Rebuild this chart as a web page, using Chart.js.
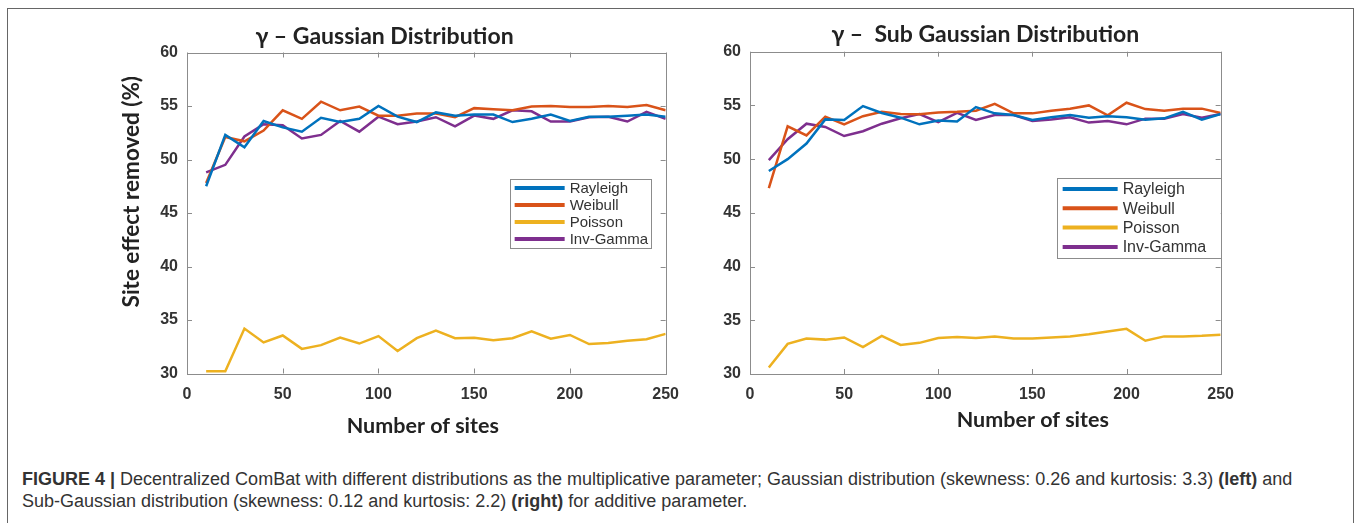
<!DOCTYPE html>
<html>
<head>
<meta charset="utf-8">
<script src="https://cdn.jsdelivr.net/npm/chart.js@4"></script>
<style>
  body { margin: 0; background: #fff; width: 1357px; height: 523px; position: relative; overflow: hidden; font-family: "Liberation Sans", Arial, sans-serif; }
  #frame { position: absolute; left: 7px; top: 8px; width: 1345px; height: 540px; border: 1px solid #666; }
  canvas { position: absolute; }
  #left { left: 100px; top: 5px; }
  #right { left: 700px; top: 5px; }
  #caption { position: absolute; left: 22px; top: 469px; width: 1320px; font-size: 18px; line-height: 21.5px; color: #333; white-space: nowrap; }
</style>
</head>
<body>
<div id="frame"></div>
<canvas id="left" width="590" height="435"></canvas>
<canvas id="right" width="545" height="435"></canvas>
<div id="caption"><b>FIGURE 4 |</b> Decentralized ComBat with different distributions as the multiplicative parameter; Gaussian distribution (skewness: 0.26 and kurtosis: 3.3) <b>(left)</b> and<br>Sub-Gaussian distribution (skewness: 0.12 and kurtosis: 2.2) <b>(right)</b> for additive parameter.</div>
<script>
// number of sites (x values)
var sites = [10, 20, 30, 40, 50, 60, 70, 80, 90, 100, 110, 120, 130, 140, 150, 160, 170, 180, 190, 200, 210, 220, 230, 240, 250];
var xTicks = [0, 50, 100, 150, 200, 250];
var yTicks = [30, 35, 40, 45, 50, 55, 60];
var seriesNames = ["Rayleigh", "Weibull", "Poisson", "Inv-Gamma"];
var seriesColors = ["#0072BD", "#D95319", "#EDB120", "#7E2F8E"];

// gamma - Gaussian distribution
var gaussRayleigh = [47.5, 52.3, 51.15, 53.6, 53.0, 52.6, 53.9, 53.5, 53.8, 55.0, 54.0, 53.5, 54.4, 54.1, 54.2, 54.2, 53.5, 53.8, 54.2, 53.6, 54.0, 54.0, 54.1, 54.2, 54.0];
var gaussWeibull = [47.8, 52.1, 51.7, 52.7, 54.6, 53.8, 55.4, 54.6, 54.95, 54.1, 54.1, 54.3, 54.3, 53.95, 54.8, 54.7, 54.6, 54.95, 55.0, 54.9, 54.9, 55.0, 54.9, 55.1, 54.6];
var gaussPoisson = [30.2, 30.2, 34.2, 32.9, 33.55, 32.3, 32.65, 33.35, 32.8, 33.5, 32.1, 33.3, 34.0, 33.3, 33.35, 33.1, 33.3, 33.95, 33.25, 33.6, 32.75, 32.85, 33.05, 33.2, 33.7];
var gaussInvGamma = [48.8, 49.5, 52.15, 53.3, 53.2, 51.96, 52.3, 53.6, 52.6, 54.0, 53.3, 53.55, 53.95, 53.1, 54.1, 53.8, 54.6, 54.5, 53.55, 53.55, 53.95, 54.0, 53.55, 54.45, 53.8];

// gamma - Sub Gaussian distribution
var subRayleigh = [48.9, 50.0, 51.45, 53.7, 53.64, 54.94, 54.3, 53.86, 53.24, 53.6, 53.5, 54.85, 54.26, 54.1, 53.64, 53.9, 54.1, 53.86, 54.0, 53.9, 53.67, 53.8, 54.4, 53.67, 54.2];
var subWeibull = [47.3, 53.05, 52.2, 53.95, 53.24, 54.0, 54.4, 54.2, 54.17, 54.35, 54.4, 54.5, 55.15, 54.26, 54.26, 54.5, 54.7, 55.0, 54.07, 55.25, 54.66, 54.5, 54.7, 54.7, 54.3];
var subPoisson = [30.6, 32.8, 33.3, 33.2, 33.4, 32.5, 33.55, 32.7, 32.9, 33.35, 33.45, 33.35, 33.5, 33.3, 33.3, 33.4, 33.5, 33.7, 33.95, 34.2, 33.1, 33.5, 33.5, 33.55, 33.65];
var subInvGamma = [49.9, 51.85, 53.3, 53.0, 52.15, 52.6, 53.3, 53.8, 54.2, 53.45, 54.3, 53.64, 54.1, 54.1, 53.55, 53.7, 53.9, 53.4, 53.55, 53.24, 53.77, 53.77, 54.2, 53.86, 54.2];

Chart.defaults.animation = false;

function makeDatasets(list) {
    return list.map(function (vals, i) {
        return {
            label: seriesNames[i],
            data: sites.map(function (s, j) { return { x: s, y: vals[j] }; }),
            borderColor: seriesColors[i],
            backgroundColor: seriesColors[i],
            borderWidth: 2.5,
            pointRadius: 0,
            tension: 0,
            fill: false,
        };
    });
}

// matlab style box with inward ticks
var boxTicks = {
    id: "boxTicks",
    afterDatasetsDraw: function (chart) {
        var ctx = chart.ctx, a = chart.chartArea;
        var xs = chart.scales.x, ys = chart.scales.y;
        ctx.save();
        ctx.strokeStyle = "#8c8c8c";
        ctx.lineWidth = 1;
        ctx.beginPath();
        xs.ticks.forEach(function (t) {
            var px = Math.round(xs.getPixelForValue(t.value)) + 0.5;
            ctx.moveTo(px, a.bottom); ctx.lineTo(px, a.bottom - 5);
            ctx.moveTo(px, a.top); ctx.lineTo(px, a.top + 5);
        });
        ys.ticks.forEach(function (t) {
            var py = Math.round(ys.getPixelForValue(t.value)) + 0.5;
            ctx.moveTo(a.left, py); ctx.lineTo(a.left + 5, py);
            ctx.moveTo(a.right, py); ctx.lineTo(a.right - 5, py);
        });
        ctx.stroke();
        ctx.strokeRect(Math.round(a.left) + 0.5, Math.round(a.top) + 0.5, Math.round(a.right - a.left), Math.round(a.bottom - a.top));
        ctx.restore();
    },
};

// legend box inside the axes
var boxLegend = {
    id: "boxLegend",
    afterDraw: function (chart, args, o) {
        var ctx = chart.ctx, a = chart.chartArea;
        var bx = a.right - o.right - o.width, by = a.top + o.top;
        ctx.save();
        ctx.fillStyle = "#fff";
        ctx.fillRect(bx, by, o.width, o.height);
        ctx.strokeStyle = "#8c8c8c";
        ctx.lineWidth = 1;
        ctx.strokeRect(Math.round(bx) + 0.5, Math.round(by) + 0.5, o.width, o.height);
        ctx.font = o.fontSize + "px 'Liberation Sans', Arial, sans-serif";
        ctx.textBaseline = "middle";
        chart.data.datasets.forEach(function (ds, i) {
            var y = by + o.first + i * o.row;
            ctx.strokeStyle = ds.borderColor;
            ctx.lineWidth = 4;
            ctx.beginPath();
            ctx.moveTo(bx + o.lineStart, y);
            ctx.lineTo(bx + o.lineStart + o.lineLen, y);
            ctx.stroke();
            ctx.fillStyle = "#333";
            ctx.fillText(ds.label, bx + o.lineStart + o.lineLen + 5, y + 1);
        });
        ctx.restore();
    },
};

// axis titles, placed off the plot centre like in the figure
var axisTitles = {
    id: "axisTitles",
    afterDraw: function (chart, args, o) {
        var ctx = chart.ctx, a = chart.chartArea;
        var cx = (a.left + a.right) / 2, cy = (a.top + a.bottom) / 2;
        ctx.save();
        ctx.fillStyle = "#222";
        ctx.textAlign = "center";
        ctx.textBaseline = "middle";
        ctx.font = "bold 21.5px Lato";
        ctx.fillText(o.xText, cx + o.xdx, a.bottom + o.xdy);
        if (o.yText) {
            ctx.font = "bold 22.5px Lato";
            ctx.translate(a.left + o.ydx, cy + o.ydy);
            ctx.rotate(-Math.PI / 2);
            ctx.fillText(o.yText, 0, 0);
        }
        ctx.restore();
    },
};

function makeOptions(cfg) {
    return {
        responsive: false,
        layout: { padding: { left: 0, right: cfg.padRight, top: 0, bottom: 0 } },
        plugins: {
            legend: { display: false },
            tooltip: { enabled: false },
            title: {
                display: true,
                text: cfg.title,
                color: "#222",
                fullSize: cfg.titleFull,
                font: { family: "Lato", size: 23, weight: "bold", lineHeight: 1.2 },
                padding: { top: cfg.titleTop, bottom: cfg.titleBottom },
            },
            boxLegend: cfg.legend,
            axisTitles: cfg.axisTitles,
        },
        scales: {
            x: {
                type: "linear",
                min: 0,
                max: 250,
                grid: { display: false, drawTicks: false },
                border: { display: false },
                afterBuildTicks: function (s) { s.ticks = xTicks.map(function (v) { return { value: v }; }); },
                afterFit: function (s) { s.height = cfg.xHeight; },
                ticks: { color: "#333", padding: 11, maxRotation: 0, font: { family: "Liberation Sans", size: 16, weight: "bold" } },
            },
            y: {
                type: "linear",
                min: 30,
                max: 60,
                grid: { display: false, drawTicks: false },
                border: { display: false },
                afterBuildTicks: function (s) { s.ticks = yTicks.map(function (v) { return { value: v }; }); },
                afterFit: function (s) { s.width = cfg.yWidth; },
                ticks: { color: "#333", padding: 9, font: { family: "Liberation Sans", size: 16, weight: "bold" } },
            },
        },
    };
}

new Chart(document.getElementById("left").getContext("2d"), {
    type: "line",
    data: { datasets: makeDatasets([gaussRayleigh, gaussWeibull, gaussPoisson, gaussInvGamma]) },
    options: makeOptions({
        title: "γ – Gaussian Distribution",
        titleFull: true, titleTop: 18, titleBottom: 1.9,
        padRight: 21, xHeight: 66.5, yWidth: 87,
        legend: { right: 15, top: 126.5, width: 141, height: 69, first: 9, row: 17, lineStart: 5, lineLen: 50, fontSize: 15 },
        axisTitles: { xText: "Number of sites", xdx: -3.5, xdy: 52.5, yText: "Site effect removed (%)", ydx: -55.3, ydy: -21.3 },
    }),
    plugins: [boxTicks, boxLegend, axisTitles],
});

new Chart(document.getElementById("right").getContext("2d"), {
    type: "line",
    data: { datasets: makeDatasets([subRayleigh, subWeibull, subPoisson, subInvGamma]) },
    options: makeOptions({
        title: "γ –  Sub Gaussian Distribution",
        titleFull: false, titleTop: 16, titleBottom: 3.1,
        padRight: 20, xHeight: 66, yWidth: 50,
        legend: { right: 0, top: 126.3, width: 164, height: 80, first: 11, row: 19.3, lineStart: 6, lineLen: 55, fontSize: 16 },
        axisTitles: { xText: "Number of sites", xdx: 47.5, xdy: 46 },
    }),
    plugins: [boxTicks, boxLegend, axisTitles],
});
</script>
</body>
</html>
